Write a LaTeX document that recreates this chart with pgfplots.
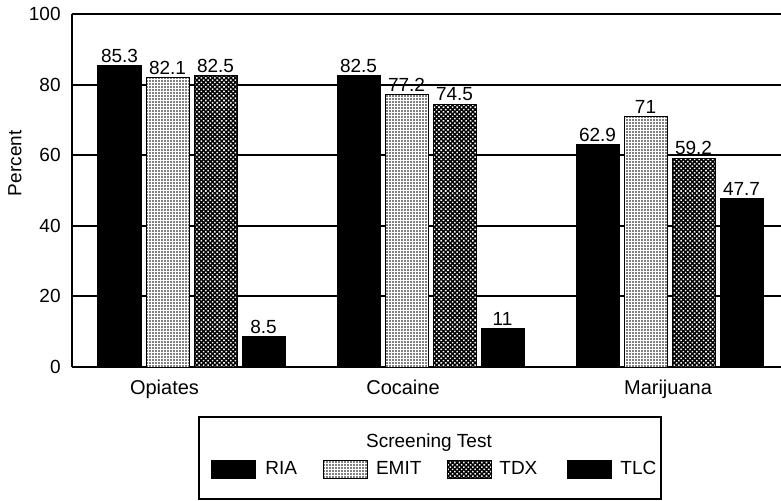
\documentclass[border=0pt]{standalone}
\usepackage{pgfplots}
\pgfplotsset{compat=1.18}
\usepackage{fontspec}
\setmainfont{Liberation Sans}
\usetikzlibrary{patterns.meta}
\begin{document}
\begin{tikzpicture}
\path[use as bounding box] (0pt,0pt) rectangle (390.5pt,-250.5pt);
\begin{axis}[
  at={(36pt,-183.5pt)}, anchor=south west,
  scale only axis, width=354.5pt, height=176.5pt,
  xmin=72, xmax=781, ymin=0, ymax=100,
  axis lines=left, axis line style={-, line width=1pt},
  clip=false,
  ytick={0,20,40,60,80,100},
  ymajorgrids, major grid style={black, line width=1pt},
  major tick length=0pt,
  xtick={164.5,403,668},
  xticklabels={Opiates,Cocaine,Marijuana},
  /pgf/number format/assume math mode=true,
  yticklabel style={font=\fontsize{9.5}{11}\selectfont, inner sep=0pt, xshift=-5.5pt},
  xticklabel style={font=\fontsize{10}{12}\selectfont, inner sep=0pt, yshift=-6.5pt},
  ylabel={Percent},
  ylabel style={font=\fontsize{9.5}{11}\selectfont, at={(axis description cs:-0.0804,0.577)}, anchor=center},
  ybar, bar width=21.5pt, bar shift=0pt,
  nodes near coords,
  every node near coord/.append style={font=\fontsize{9.5}{11}\selectfont, anchor=south, inner sep=1.2pt},
  legend columns=4,
  legend style={draw=none, fill=none, inner sep=0pt, at={(axis description cs:0.196,-0.289)}, anchor=west,
    font=\fontsize{9.5}{11}\selectfont,
    /tikz/column 1/.style={column sep=2.5pt},
    /tikz/column 2/.style={column sep=11pt},
    /tikz/column 3/.style={column sep=2pt},
    /tikz/column 4/.style={column sep=11pt},
    /tikz/column 5/.style={column sep=1.5pt},
    /tikz/column 6/.style={column sep=13pt},
    /tikz/column 7/.style={column sep=2pt}},
  legend image code/.code={\draw[#1, line width=0.5pt] (0pt,-4.5pt) rectangle (22pt,4.5pt);},
]
\addplot[draw=black, line width=0.5pt, fill=black] coordinates {(119.5,85.3) (358.5,82.5) (597.5,62.9)};
\addlegendentry{RIA}
\addplot[draw=black, line width=0.5pt, fill=white, postaction={pattern={Dots[distance=1.5pt, radius=0.4pt]}, pattern color=black}] coordinates {(167.5,82.1) (406.5,77.2) (645.5,71)};
\addlegendentry{EMIT}
\addplot[draw=black, line width=0.5pt, fill=black, postaction={pattern={Dots[distance=1.6pt, radius=0.55pt, angle=45]}, pattern color=white}] coordinates {(215.5,82.5) (454.5,74.5) (693.5,59.2)};
\addlegendentry{TDX}
\addplot[draw=black, line width=0.5pt, fill=black] coordinates {(263.5,8.5) (502.5,11) (741.5,47.7)};
\addlegendentry{TLC}
\end{axis}
\draw[line width=0.6pt] (99.5pt,-208.5pt) rectangle (330.5pt,-249.5pt);
\node[font=\fontsize{9.5}{11}\selectfont] at (214.5pt,-221.5pt) {Screening Test};
\end{tikzpicture}
\end{document}
